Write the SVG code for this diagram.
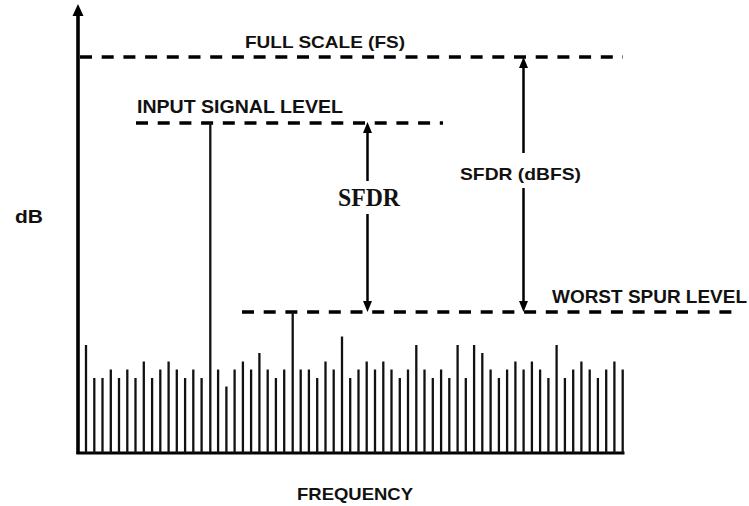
<svg xmlns="http://www.w3.org/2000/svg" width="749" height="506" viewBox="0 0 749 506">
  <style>
    .lbl { font-family: "Liberation Sans", Arial, sans-serif; font-weight: bold; fill: #111; }
    .serif { font-family: "Liberation Serif", "Times New Roman", serif; font-weight: bold; fill: #111; }
    .axis { stroke: #000; fill: none; }
    .level { stroke: #000; stroke-width: 3.6; stroke-dasharray: 12 9.7; fill: none; }
    .dim { stroke: #000; stroke-width: 2.5; fill: none; }
    .head { fill: #000; stroke: none; }
    .bar { stroke: #111; stroke-width: 2.3; }
  </style>

  <rect width="749" height="506" fill="#fff"/>

  <!-- axes -->
  <g id="axes">
    <line class="axis" x1="78" y1="12" x2="78" y2="454" stroke-width="3.6"/>
    <polygon class="head" points="78,4 83.5,16 72.5,16"/>
    <line class="axis" x1="76.5" y1="453" x2="624.5" y2="453" stroke-width="3"/>
    <text class="lbl" x="15" y="223" font-size="18" textLength="28" lengthAdjust="spacingAndGlyphs">dB</text>
    <text class="lbl" x="297" y="500" font-size="17" textLength="116" lengthAdjust="spacingAndGlyphs">FREQUENCY</text>
  </g>

  <!-- reference levels -->
  <g id="full-scale">
    <line class="level" x1="80" y1="57" x2="623" y2="57"/>
    <text class="lbl" x="245" y="48" font-size="17" textLength="160" lengthAdjust="spacingAndGlyphs">FULL SCALE (FS)</text>
  </g>
  <g id="input-level">
    <line class="level" x1="136" y1="123" x2="443" y2="123"/>
    <text class="lbl" x="137" y="113" font-size="18" textLength="206" lengthAdjust="spacingAndGlyphs">INPUT SIGNAL LEVEL</text>
  </g>
  <g id="spur-level">
    <line class="level" x1="242" y1="312" x2="733" y2="312"/>
    <text class="lbl" x="552" y="303" font-size="18" textLength="195" lengthAdjust="spacingAndGlyphs">WORST SPUR LEVEL</text>
  </g>

  <!-- spectrum: noise floor bars, carrier and worst spur -->
  <g id="spectrum">
    <line class="bar" x1="86.0" y1="453" x2="86.0" y2="345"/>
    <line class="bar" x1="94.3" y1="453" x2="94.3" y2="378"/>
    <line class="bar" x1="102.5" y1="453" x2="102.5" y2="378"/>
    <line class="bar" x1="110.8" y1="453" x2="110.8" y2="369.5"/>
    <line class="bar" x1="119.0" y1="453" x2="119.0" y2="378"/>
    <line class="bar" x1="127.3" y1="453" x2="127.3" y2="369.5"/>
    <line class="bar" x1="135.5" y1="453" x2="135.5" y2="378"/>
    <line class="bar" x1="143.8" y1="453" x2="143.8" y2="361.5"/>
    <line class="bar" x1="152.1" y1="453" x2="152.1" y2="378"/>
    <line class="bar" x1="160.3" y1="453" x2="160.3" y2="369.5"/>
    <line class="bar" x1="168.6" y1="453" x2="168.6" y2="361.5"/>
    <line class="bar" x1="176.8" y1="453" x2="176.8" y2="369.5"/>
    <line class="bar" x1="185.1" y1="453" x2="185.1" y2="378"/>
    <line class="bar" x1="193.3" y1="453" x2="193.3" y2="369.5"/>
    <line class="bar" x1="201.6" y1="453" x2="201.6" y2="378"/>
    <line class="bar" x1="210.3" y1="453" x2="210.3" y2="123"/>
    <line class="bar" x1="218.1" y1="453" x2="218.1" y2="369.5"/>
    <line class="bar" x1="226.4" y1="453" x2="226.4" y2="386.5"/>
    <line class="bar" x1="234.6" y1="453" x2="234.6" y2="369.5"/>
    <line class="bar" x1="242.9" y1="453" x2="242.9" y2="361.5"/>
    <line class="bar" x1="251.1" y1="453" x2="251.1" y2="369.5"/>
    <line class="bar" x1="259.4" y1="453" x2="259.4" y2="353"/>
    <line class="bar" x1="267.7" y1="453" x2="267.7" y2="369.5"/>
    <line class="bar" x1="275.9" y1="453" x2="275.9" y2="378"/>
    <line class="bar" x1="284.2" y1="453" x2="284.2" y2="369.5"/>
    <line class="bar" x1="292.7" y1="453" x2="292.7" y2="312"/>
    <line class="bar" x1="300.7" y1="453" x2="300.7" y2="369.5"/>
    <line class="bar" x1="308.9" y1="453" x2="308.9" y2="369.5"/>
    <line class="bar" x1="317.2" y1="453" x2="317.2" y2="378"/>
    <line class="bar" x1="325.5" y1="453" x2="325.5" y2="361.5"/>
    <line class="bar" x1="333.7" y1="453" x2="333.7" y2="369.5"/>
    <line class="bar" x1="342.0" y1="453" x2="342.0" y2="336.5"/>
    <line class="bar" x1="350.2" y1="453" x2="350.2" y2="378"/>
    <line class="bar" x1="358.5" y1="453" x2="358.5" y2="369.5"/>
    <line class="bar" x1="366.7" y1="453" x2="366.7" y2="361.5"/>
    <line class="bar" x1="375.0" y1="453" x2="375.0" y2="369.5"/>
    <line class="bar" x1="383.3" y1="453" x2="383.3" y2="361.5"/>
    <line class="bar" x1="391.5" y1="453" x2="391.5" y2="369.5"/>
    <line class="bar" x1="399.8" y1="453" x2="399.8" y2="378"/>
    <line class="bar" x1="408.0" y1="453" x2="408.0" y2="369.5"/>
    <line class="bar" x1="416.3" y1="453" x2="416.3" y2="345"/>
    <line class="bar" x1="424.5" y1="453" x2="424.5" y2="369.5"/>
    <line class="bar" x1="432.8" y1="453" x2="432.8" y2="378"/>
    <line class="bar" x1="441.1" y1="453" x2="441.1" y2="369.5"/>
    <line class="bar" x1="449.3" y1="453" x2="449.3" y2="378"/>
    <line class="bar" x1="457.6" y1="453" x2="457.6" y2="345"/>
    <line class="bar" x1="465.8" y1="453" x2="465.8" y2="378"/>
    <line class="bar" x1="474.1" y1="453" x2="474.1" y2="345"/>
    <line class="bar" x1="482.3" y1="453" x2="482.3" y2="353"/>
    <line class="bar" x1="490.6" y1="453" x2="490.6" y2="369.5"/>
    <line class="bar" x1="498.9" y1="453" x2="498.9" y2="378"/>
    <line class="bar" x1="507.1" y1="453" x2="507.1" y2="369.5"/>
    <line class="bar" x1="515.4" y1="453" x2="515.4" y2="361.5"/>
    <line class="bar" x1="523.6" y1="453" x2="523.6" y2="369.5"/>
    <line class="bar" x1="531.9" y1="453" x2="531.9" y2="361.5"/>
    <line class="bar" x1="540.1" y1="453" x2="540.1" y2="369.5"/>
    <line class="bar" x1="548.4" y1="453" x2="548.4" y2="378"/>
    <line class="bar" x1="556.6" y1="453" x2="556.6" y2="345"/>
    <line class="bar" x1="564.9" y1="453" x2="564.9" y2="378"/>
    <line class="bar" x1="573.2" y1="453" x2="573.2" y2="369.5"/>
    <line class="bar" x1="581.4" y1="453" x2="581.4" y2="361.5"/>
    <line class="bar" x1="589.7" y1="453" x2="589.7" y2="369.5"/>
    <line class="bar" x1="597.9" y1="453" x2="597.9" y2="378"/>
    <line class="bar" x1="606.2" y1="453" x2="606.2" y2="369.5"/>
    <line class="bar" x1="614.4" y1="453" x2="614.4" y2="361.5"/>
    <line class="bar" x1="622.7" y1="453" x2="622.7" y2="369.5"/>
  </g>

  <!-- dimension arrows -->
  <g id="connectors">
    <g id="sfdr">
      <line class="dim" x1="367.5" y1="130" x2="367.5" y2="181"/>
      <line class="dim" x1="367.5" y1="214" x2="367.5" y2="304"/>
      <polygon class="head" points="367.5,122 372,133 363,133"/>
      <polygon class="head" points="367.5,312 372,301 363,301"/>
      <text class="serif" x="338" y="206" font-size="25" textLength="62" lengthAdjust="spacingAndGlyphs">SFDR</text>
    </g>
    <g id="sfdr-dbfs">
      <line class="dim" x1="523.5" y1="64" x2="523.5" y2="153"/>
      <line class="dim" x1="523.5" y1="188" x2="523.5" y2="304"/>
      <polygon class="head" points="523.5,57 528,68 519,68"/>
      <polygon class="head" points="523.5,312 528,301 519,301"/>
      <text class="lbl" x="460" y="180" font-size="17" textLength="121" lengthAdjust="spacingAndGlyphs">SFDR (dBFS)</text>
    </g>
  </g>
</svg>
